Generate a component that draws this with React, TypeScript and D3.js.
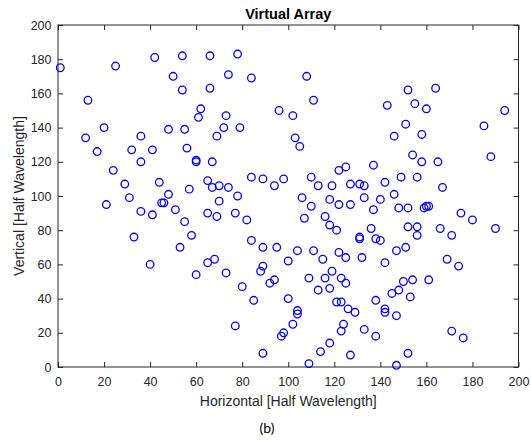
import React, { useEffect, useRef } from "react";
import * as d3 from "d3";

// element positions, in half wavelengths
const xPos = [
  1, 13, 25, 42, 54, 66, 50, 54, 66, 62, 61, 20, 12, 17, 32, 36, 41, 36, 48, 55,
  56, 60, 60, 67, 69, 24, 29, 44, 65, 57, 67, 70, 74, 78, 74, 84, 108, 111, 73, 72,
  79, 96, 102, 103, 105, 122, 125, 137, 84, 89, 98, 94, 110, 113, 119, 127, 131, 133, 152, 164,
  143, 155, 160, 194, 151, 146, 158, 185, 154, 158, 165, 188, 149, 156, 142, 167, 21, 31, 48, 45,
  46, 36, 41, 51, 55, 58, 33, 53, 40, 60, 65, 68, 65, 69, 70, 78, 77, 82, 84, 89,
  95, 104, 100, 73, 89, 88, 94, 92, 80, 85, 100, 104, 104, 102, 98, 97, 77, 89, 109, 114,
  118, 127, 123, 124, 133, 106, 110, 107, 118, 122, 127, 133, 116, 118, 121, 131, 131, 136, 111, 115,
  122, 125, 132, 119, 109, 116, 123, 125, 113, 118, 121, 123, 126, 129, 146, 140, 137, 148, 152, 159,
  160, 161, 175, 180, 190, 152, 156, 156, 166, 171, 138, 140, 147, 151, 142, 169, 174, 150, 154, 161,
  145, 148, 153, 138, 142, 142, 147, 138, 171, 176, 152, 147,
];
const yPos = [
  175, 156, 176, 181, 182, 182, 170, 162, 163, 151, 146, 140, 134, 126, 127, 135, 127, 120, 139, 139,
  128, 121, 120, 120, 135, 115, 107, 108, 109, 104, 105, 106, 105, 183, 171, 169, 170, 156, 147, 140,
  140, 150, 147, 134, 129, 115, 117, 118, 111, 110, 110, 106, 111, 106, 106, 107, 107, 106, 162, 163,
  153, 154, 151, 150, 142, 135, 136, 141, 124, 120, 120, 123, 111, 111, 108, 105, 95, 99, 101, 96,
  96, 91, 89, 92, 85, 77, 76, 70, 60, 54, 61, 63, 90, 88, 97, 100, 90, 86, 74, 70,
  70, 68, 62, 55, 59, 56, 51, 49, 47, 39, 40, 33, 31, 25, 20, 18, 24, 8, 2, 9,
  14, 7, 21, 25, 22, 99, 94, 87, 98, 95, 95, 99, 88, 83, 80, 76, 75, 81, 68, 63,
  67, 64, 64, 56, 52, 52, 52, 49, 45, 46, 38, 38, 34, 32, 101, 98, 92, 93, 93, 93,
  94, 94, 90, 86, 81, 82, 82, 77, 81, 77, 75, 74, 68, 70, 61, 63, 59, 50, 51, 51,
  43, 45, 41, 39, 34, 32, 30, 18, 21, 17, 8, 1,
];
const xTicks = [0, 20, 40, 60, 80, 100, 120, 140, 160, 180, 200];
const yTicks = [0, 20, 40, 60, 80, 100, 120, 140, 160, 180, 200];

const W = 531, H = 440;
const margin = { top: 25, right: 12.5, bottom: 73, left: 58 };
const axisColor = "#262626";
const font = "'Liberation Sans', Arial, sans-serif";

const App = () => {
  const ref = useRef<SVGSVGElement>(null);

  useEffect(() => {
    const svg = d3.select(ref.current);
    svg.selectAll("*").remove();

    const x = d3.scaleLinear().domain([0, 200]).range([margin.left, W - margin.right]);
    const y = d3.scaleLinear().domain([0, 200]).range([H - margin.bottom, margin.top]);
    const x0 = margin.left, x1 = W - margin.right;
    const y0 = H - margin.bottom, y1 = margin.top;

    svg.append("rect").attr("width", W).attr("height", H).attr("fill", "white");

    const style = (g) => {
      g.select(".domain").remove();
      g.selectAll("line").attr("stroke", axisColor).attr("stroke-width", 1);
      g.selectAll("text").attr("fill", axisColor).attr("font-family", font).attr("font-size", 12.5);
    };

    // bottom / left with labels, ticks pointing inwards
    svg.append("g").attr("transform", `translate(0,${y0})`)
      .call(d3.axisBottom(x).tickValues(xTicks).tickSizeInner(-5).tickSizeOuter(0).tickPadding(10.5))
      .call(style);
    svg.append("g").attr("transform", `translate(${x0},0)`)
      .call(d3.axisLeft(y).tickValues(yTicks).tickSizeInner(-5).tickSizeOuter(0).tickPadding(6.5))
      .call(style);
    // top / right, ticks only
    svg.append("g").attr("transform", `translate(0,${y1})`)
      .call(d3.axisTop(x).tickValues(xTicks).tickSizeInner(-5).tickSizeOuter(0).tickFormat(() => ""))
      .call(style);
    svg.append("g").attr("transform", `translate(${x1},0)`)
      .call(d3.axisRight(y).tickValues(yTicks).tickSizeInner(-5).tickSizeOuter(0).tickFormat(() => ""))
      .call(style);

    svg.append("rect")
      .attr("x", x0).attr("y", y1).attr("width", x1 - x0).attr("height", y0 - y1)
      .attr("fill", "none").attr("stroke", axisColor).attr("stroke-width", 1);

    svg.append("g").selectAll("circle")
      .data(xPos.map((v, i) => [v, yPos[i]]))
      .join("circle")
      .attr("cx", d => x(d[0]))
      .attr("cy", d => y(d[1]))
      .attr("r", 3.8)
      .attr("fill", "none")
      .attr("stroke", "#0000ff")
      .attr("stroke-width", 1.3);

    svg.append("text")
      .attr("x", (x0 + x1) / 2).attr("y", 18.5)
      .attr("text-anchor", "middle")
      .attr("font-family", font).attr("font-weight", "bold").attr("font-size", 14.5)
      .attr("fill", "#000")
      .text("Virtual Array");

    svg.append("text")
      .attr("x", (x0 + x1) / 2).attr("y", 406)
      .attr("text-anchor", "middle")
      .attr("font-family", font).attr("font-size", 14)
      .attr("fill", axisColor)
      .text("Horizontal [Half Wavelength]");

    svg.append("text")
      .attr("transform", `translate(24,${(y0 + y1) / 2}) rotate(-90)`)
      .attr("text-anchor", "middle")
      .attr("font-family", font).attr("font-size", 14)
      .attr("fill", axisColor)
      .text("Vertical [Half Wavelength]");

    svg.append("text")
      .attr("x", 267).attr("y", 433)
      .attr("text-anchor", "middle")
      .attr("font-family", "Lato, 'Open Sans', sans-serif").attr("font-size", 14)
      .attr("fill", "#000")
      .text("(b)");
  }, []);

  return (
    <svg ref={ref} width={W} height={H}
      style={{ position: "absolute", left: 0, top: 0, display: "block" }} />
  );
};

export default App;
